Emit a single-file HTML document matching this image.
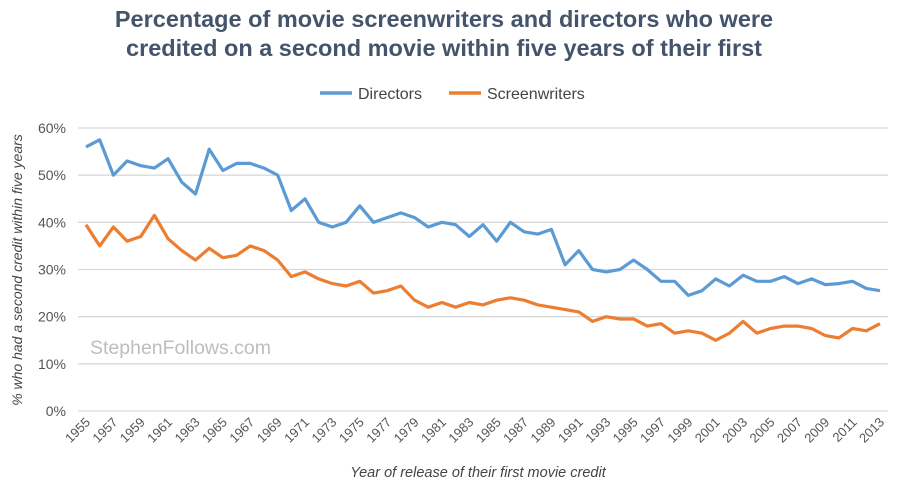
<!DOCTYPE html>
<html><head><meta charset="utf-8"><style>
body{margin:0;background:#fff;font-family:"Liberation Sans",sans-serif;}
svg text{font-family:"Liberation Sans",sans-serif;}
</style></head><body>
<svg id="chart" width="900" height="489">
<text x="444" y="27" text-anchor="middle" font-size="23.5" font-weight="bold" fill="#44546a">Percentage of movie screenwriters and directors who were</text>
<text x="444" y="56" text-anchor="middle" font-size="23.5" font-weight="bold" fill="#44546a">credited on a second movie within five years of their first</text>
<g>
<line x1="320" y1="93" x2="352" y2="93" stroke="#5b9bd5" stroke-width="3.5"/>
<text x="358" y="99" font-size="16" fill="#444">Directors</text>
<line x1="449" y1="93" x2="481" y2="93" stroke="#ed7d31" stroke-width="3.5"/>
<text x="487" y="99" font-size="16" fill="#444">Screenwriters</text>
</g>
<text x="90" y="354" font-size="19.5" fill="#bdbdbd">StephenFollows.com</text>
<text transform="translate(22,270) rotate(-90)" text-anchor="middle" font-size="14" font-style="italic" fill="#444">% who had a second credit within five years</text>
<text x="478" y="477" text-anchor="middle" font-size="14.5" font-style="italic" fill="#444">Year of release of their first movie credit</text>
<g id="grid"></g><g id="series"></g><g id="xt"></g>
</svg>
<script>
const years=[];for(let y=1955;y<=2013;y++)years.push(y);
const directors=[56,57.5,50,53,52,51.5,53.5,48.5,46,55.5,51,52.5,52.5,51.5,50,42.5,45,40,39,40,43.5,40,41,42,41,39,40,39.5,37,39.5,36,40,38,37.5,38.5,31,34,30,29.5,30,32,30,27.5,27.5,24.5,25.5,28,26.5,28.8,27.5,27.5,28.5,27,28,26.8,27,27.5,26,25.5];
const screenwriters=[39.5,35,39,36,37,41.5,36.5,34,32,34.5,32.5,33,35,34,32,28.5,29.5,28,27,26.5,27.5,25,25.5,26.5,23.5,22,23,22,23,22.5,23.5,24,23.5,22.5,22,21.5,21,19,20,19.5,19.5,18,18.5,16.5,17,16.5,15,16.5,19,16.5,17.5,18,18,17.5,16,15.5,17.5,17,18.5];
const yTicks=[0,10,20,30,40,50,60];
const NS="http://www.w3.org/2000/svg";
const x0=78,x1=888,y0=411,y60=128;
const xs=i=>86+(i)*(880-86)/(years.length-1);
const ys=v=>y0-(v/60)*(y0-y60);
const grid=document.getElementById('grid');
yTicks.forEach(t=>{
 const l=document.createElementNS(NS,'line');
 l.setAttribute('x1',x0);l.setAttribute('x2',x1);l.setAttribute('y1',ys(t));l.setAttribute('y2',ys(t));
 l.setAttribute('stroke','#d9d9d9');l.setAttribute('stroke-width','1.3');
 
 
 grid.appendChild(l);
 const tx=document.createElementNS(NS,'text');
 tx.setAttribute('x',66);tx.setAttribute('y',ys(t)+5);tx.setAttribute('text-anchor','end');
 tx.setAttribute('font-size','14');tx.setAttribute('fill','#555');tx.textContent=t+'%';
 
 
 grid.appendChild(tx);
});
const xt=document.getElementById('xt');
years.forEach((y,i)=>{
 if(y%2===0)return;
 const tx=document.createElementNS(NS,'text');
 const px=xs(i)+5,py=423;
 tx.setAttribute('transform','translate('+px+','+py+') rotate(-45)');
 tx.setAttribute('text-anchor','end');tx.setAttribute('font-size','13');tx.setAttribute('fill','#555');
 tx.textContent=y;
 
 
 xt.appendChild(tx);
});
const ser=document.getElementById('series');
function draw(vals,color,name){
 const p=document.createElementNS(NS,'polyline');
 p.setAttribute('points',vals.map((v,i)=>xs(i).toFixed(1)+','+ys(v).toFixed(1)).join(' '));
 p.setAttribute('fill','none');p.setAttribute('stroke',color);p.setAttribute('stroke-width','3.2');
 p.setAttribute('stroke-linejoin','round');
 
 
 ser.appendChild(p);
}
draw(directors,'#5b9bd5','directors-line');
draw(screenwriters,'#ed7d31','screenwriters-line');
</script>
</body></html>
